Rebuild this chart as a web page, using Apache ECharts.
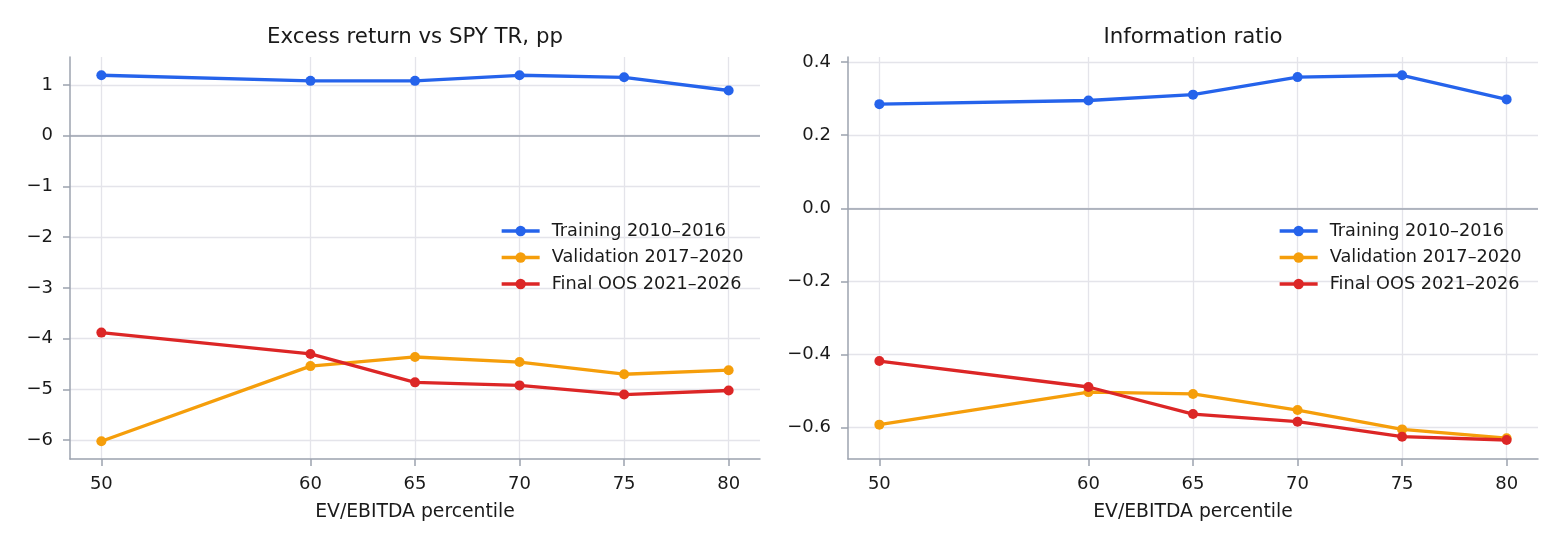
<!DOCTYPE html>
<html><head><meta charset="utf-8">
<script src="https://cdn.jsdelivr.net/npm/echarts@6/dist/echarts.min.js"></script>
<style>html,body{margin:0;padding:0;background:#fff}#c{width:1563px;height:544px}</style>
</head><body><div id="c"></div>
<script>
const percentiles = [50, 60, 65, 70, 75, 80];
const seriesNames = ['Training 2010–2016', 'Validation 2017–2020', 'Final OOS 2021–2026'];
const excessTraining = [1.19, 1.08, 1.08, 1.19, 1.15, 0.89];
const excessValidation = [-6.02, -4.54, -4.36, -4.46, -4.70, -4.62];
const excessFinal = [-3.88, -4.30, -4.86, -4.92, -5.10, -5.02];
const irTraining = [0.285, 0.295, 0.311, 0.359, 0.364, 0.298];
const irValidation = [-0.592, -0.503, -0.508, -0.552, -0.605, -0.629];
const irFinal = [-0.418, -0.489, -0.563, -0.584, -0.625, -0.634];
const excessTicks = [-6, -5, -4, -3, -2, -1, 0, 1];
const irTicks = [-0.6, -0.4, -0.2, 0, 0.2, 0.4];
const titles = ['Excess return vs SPY TR, pp', 'Information ratio'];
const xAxisName = 'EV/EBITDA percentile';

const colors = ['#2563eb', '#f59e0b', '#dc2626'];
const FONT = 'DejaVu Sans';
const TXT = '#1a1a1a';
const AXIS = '#9ca3af';
const GRID = '#e4e4ea';

const chart = echarts.init(document.getElementById('c'), null, {renderer: 'canvas'});

function minus(s) { return String(s).replace('-', '\u2212'); }

function xAxisOpt(gi) {
  return {
    type: 'value', gridIndex: gi, min: 48.5, max: 81.5,
    name: xAxisName, nameLocation: 'middle', nameGap: 44,
    nameTextStyle: {fontFamily: FONT, fontSize: 18.8, color: TXT},
    axisLine: {onZero: false, lineStyle: {color: AXIS, width: 1.5}},
    axisTick: {show: true, length: 7, customValues: percentiles, lineStyle: {color: AXIS, width: 1.5}},
    axisLabel: {customValues: percentiles, margin: 16, fontFamily: FONT, fontSize: 18, color: TXT},
    splitLine: {show: true, lineStyle: {color: GRID, width: 1.3}}
  };
}
function yAxisOpt(gi, min, max, ticks, fmt) {
  return {
    type: 'value', gridIndex: gi, min: min, max: max,
    axisLine: {show: true, onZero: false, lineStyle: {color: AXIS, width: 1.5}},
    axisTick: {show: true, length: 7, customValues: ticks, lineStyle: {color: AXIS, width: 1.5}},
    axisLabel: {customValues: ticks, margin: 17, fontFamily: FONT, fontSize: 18, color: TXT, formatter: fmt},
    splitLine: {show: true, lineStyle: {color: GRID, width: 1.3}}
  };
}
function lineSeries(name, vals, ci, gi, zero) {
  const s = {
    type: 'line', name: name, xAxisIndex: gi, yAxisIndex: gi,
    data: percentiles.map((x, i) => [x, vals[i]]),
    symbol: 'circle', symbolSize: 10,
    lineStyle: {color: colors[ci], width: 3.3},
    itemStyle: {color: colors[ci]},
    animation: false, z: 3
  };
  if (zero) {
    s.markLine = {
      silent: true, symbol: 'none', label: {show: false}, animation: false,
      lineStyle: {color: AXIS, width: 1.5, type: 'solid'},
      data: [{yAxis: 0}]
    };
  }
  return s;
}
function legendOpt(left) {
  return {
    orient: 'vertical', left: left, top: 221, padding: 0,
    itemWidth: 38, itemHeight: 13, itemGap: 6.5,
    lineStyle: {width: 3.3},
    textStyle: {fontFamily: FONT, fontSize: 17.7, color: TXT, lineHeight: 20, padding: [0, 0, 0, 7]},
    data: seriesNames
  };
}

const option = {
  backgroundColor: '#ffffff',
  animation: false,
  textStyle: {fontFamily: FONT},
  title: [
    {text: titles[0], left: 415, top: 27, padding: 0, textAlign: 'center', textStyle: {fontFamily: FONT, fontSize: 21.3, fontWeight: 'normal', color: TXT}},
    {text: titles[1], left: 1193, top: 27, padding: 0, textAlign: 'center', textStyle: {fontFamily: FONT, fontSize: 21.3, fontWeight: 'normal', color: TXT}}
  ],
  legend: [legendOpt(500), legendOpt(1278)],
  grid: [
    {left: 70, right: 803, top: 57, bottom: 85},
    {left: 848, right: 25, top: 57, bottom: 85}
  ],
  xAxis: [xAxisOpt(0), xAxisOpt(1)],
  yAxis: [
    yAxisOpt(0, -6.37, 1.55, excessTicks, v => minus(Math.round(v))),
    yAxisOpt(1, -0.686, 0.414, irTicks, v => minus(Number(v).toFixed(1)))
  ],
  series: [
    lineSeries(seriesNames[0], excessTraining, 0, 0, true),
    lineSeries(seriesNames[1], excessValidation, 1, 0, false),
    lineSeries(seriesNames[2], excessFinal, 2, 0, false),
    lineSeries(seriesNames[0], irTraining, 0, 1, true),
    lineSeries(seriesNames[1], irValidation, 1, 1, false),
    lineSeries(seriesNames[2], irFinal, 2, 1, false)
  ]
};
chart.setOption(option);
</script></body></html>
